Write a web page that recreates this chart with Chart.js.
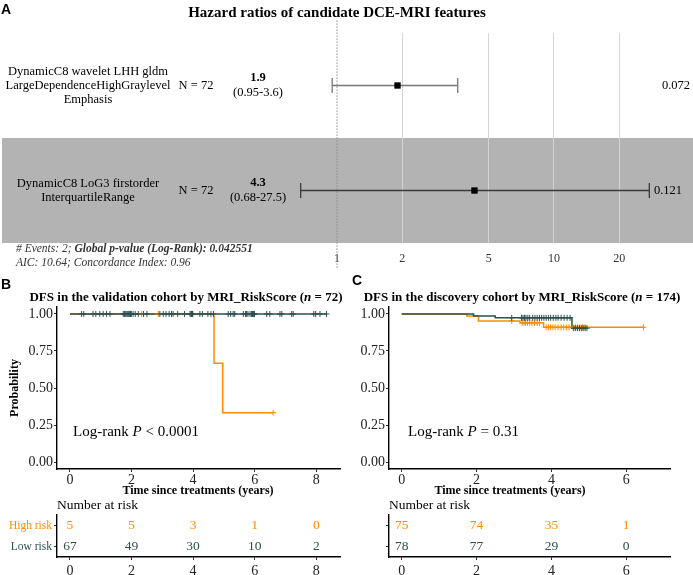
<!DOCTYPE html>
<html>
<head>
<meta charset="utf-8">
<script src="https://cdn.jsdelivr.net/npm/chart.js@4.4.1/dist/chart.umd.min.js"></script>
<style>
  body { margin: 0; background: #fff; }
  #wrap { position: relative; width: 693px; height: 575px; }
  #wrap canvas { position: absolute; left: 0; top: 0; }
</style>
</head>
<body>
<div id="wrap">
  <canvas id="forest" width="693" height="575"></canvas>
  <canvas id="kmB" width="693" height="575"></canvas>
  <canvas id="riskB" width="693" height="575"></canvas>
  <canvas id="kmC" width="693" height="575"></canvas>
  <canvas id="riskC" width="693" height="575"></canvas>
</div>
<script>
// forest plot (A)
const featureLines = [
  ["DynamicC8 wavelet LHH gldm", "LargeDependenceHighGraylevel", "Emphasis"],
  ["DynamicC8 LoG3 firstorder", "InterquartileRange"]
];
const nPatients = [72, 72];
const hazardRatio = [1.9, 4.3];
const ciLower = [0.95, 0.68];
const ciUpper = [3.6, 27.5];
const hrLabels = ["1.9", "4.3"];
const ciLabels = ["(0.95-3.6)", "(0.68-27.5)"];
const pValues = ["0.072", "0.121"];
const hrTicks = [1, 2, 5, 10, 20];

// KM curves
const groups = ["High risk", "Low risk"];
const probTicks = [0, 0.25, 0.5, 0.75, 1];

// validation cohort (B)
const valHighTime = [0, 4.68, 4.96, 6.6];
const valHighSurv = [1, 0.667, 0.333, 0.333];
const valHighCensor = [2.33, 2.87, 6.6];
const valLowTime = [0, 8.33];
const valLowSurv = [1, 1];
const valLowCensor = [0.38, 0.45, 0.75, 0.84, 0.97, 1.08, 1.19, 1.30, 1.73, 1.77, 1.81, 1.85, 1.88, 1.91, 1.94, 1.96, 1.98, 1.99,
  2.05, 2.12, 2.22, 2.39, 2.50, 2.92, 3.03, 3.12, 3.22, 3.30, 3.35, 3.50, 3.72, 3.90, 3.93, 3.95, 3.97, 3.98, 3.99,
  4.22, 4.30, 4.48, 4.58, 4.66, 5.14, 5.22, 5.30, 5.35, 5.63, 5.70, 5.73, 5.78, 5.85, 5.90, 5.93, 5.95, 5.97, 5.98, 5.99,
  6.39, 6.49, 6.82, 6.88, 7.20, 7.25, 7.92, 7.98, 8.12, 8.33];
const valTicks = [0, 2, 4, 6, 8];
const valRiskHigh = [5, 5, 3, 1, 0];
const valRiskLow = [67, 49, 30, 10, 2];

// discovery cohort (C)
const disHighTime = [0, 1.74, 2.05, 3.16, 3.79, 6.46];
const disHighSurv = [1, 0.987, 0.953, 0.94, 0.91, 0.91];
const disHighCensor = [2.94, 3.22, 3.27, 3.31, 3.36, 3.42, 3.48, 3.55, 3.62, 3.68, 3.86, 3.92, 3.98, 4.04, 4.1,
  4.18, 4.26, 4.33, 4.4, 4.47, 4.58, 4.64, 4.7, 4.76, 4.83, 4.9, 6.46];
const disLowTime = [0, 1.92, 2.5, 4.55, 4.95];
const disLowSurv = [1, 0.987, 0.974, 0.904, 0.904];
const disLowCensor = [2.94, 3.2, 3.24, 3.28, 3.32, 3.37, 3.42, 3.5, 3.56, 3.62, 3.68, 3.74, 3.8, 3.86, 3.92, 3.98,
  4.05, 4.12, 4.18, 4.26, 4.34, 4.42, 4.5, 4.6, 4.65, 4.7, 4.75, 4.8, 4.85, 4.9, 4.95];
const disTicks = [0, 2, 4, 6];
const disRiskHigh = [75, 74, 35, 1];
const disRiskLow = [78, 77, 29, 0];

const SERIF = '"Liberation Serif", "Times New Roman", serif';
const SANS = '"Liberation Sans", Arial, sans-serif';
const ORANGE = "#FF8C00";
const DARK = "#2F4F4F";

Chart.defaults.font.family = SERIF;
Chart.defaults.color = "#222";
Chart.defaults.animation = false;
Chart.defaults.plugins.legend.display = false;
Chart.defaults.plugins.tooltip.enabled = false;

function fontStr(size, style, family) {
  return ((style || "") + " " + size + "px " + (family || SERIF)).trim();
}

// draws free text items: {x, y, align, size, style, family, color, parts:[{t, style}]}
const textPlugin = {
  id: "texts",
  afterDraw(chart, args, opts) {
    const ctx = chart.ctx;
    (opts.items || []).forEach(function(item) {
      const parts = item.parts || [{ t: item.text, style: item.style }];
      ctx.save();
      ctx.textBaseline = "middle";
      ctx.textAlign = "left";
      let w = 0;
      parts.forEach(function(p) {
        ctx.font = fontStr(item.size, p.style, item.family);
        w += ctx.measureText(p.t).width;
      });
      let x = item.x;
      if (item.align === "center") x -= w / 2;
      if (item.align === "right") x -= w;
      parts.forEach(function(p) {
        ctx.font = fontStr(item.size, p.style, item.family);
        ctx.fillStyle = item.color || "#000";
        ctx.fillText(p.t, x, item.y);
        x += ctx.measureText(p.t).width;
      });
      ctx.restore();
    });
  }
};

// forest plot: grey band + row texts
const forestCols = { label: 88, n: 196, hr: 258, p: [676, 668] };
const forestRows = {
  id: "forestRows",
  beforeDraw(chart) {
    const y = chart.scales.y;
    const ctx = chart.ctx;
    ctx.save();
    ctx.fillStyle = "#b3b3b3";
    for (let i = 0; i < featureLines.length; i++) {
      if (i % 2 === 1) {
        const top = y.getPixelForValue(i + 0.5);
        const bottom = y.getPixelForValue(i + 1.5);
        ctx.fillRect(2, top, 691, bottom - top);
      }
    }
    ctx.restore();
  },
  afterDraw(chart) {
    const y = chart.scales.y;
    const ctx = chart.ctx;
    ctx.save();
    ctx.textAlign = "center";
    ctx.textBaseline = "middle";
    ctx.fillStyle = "#000";
    for (let i = 0; i < featureLines.length; i++) {
      const yc = y.getPixelForValue(i + 1);
      const lines = featureLines[i];
      ctx.font = fontStr(12.5);
      for (let j = 0; j < lines.length; j++) {
        ctx.fillText(lines[j], forestCols.label, yc + (j - (lines.length - 1) / 2) * 14);
      }
      ctx.fillText("N = " + nPatients[i], forestCols.n, yc);
      ctx.fillText(ciLabels[i], forestCols.hr, yc + 7.5);
      ctx.fillText(pValues[i], forestCols.p[i], yc);
      ctx.font = fontStr(12.5, "bold");
      ctx.fillText(hrLabels[i], forestCols.hr, yc - 8);
    }
    ctx.restore();
  }
};

const barColors = ["#777", "#3a3a3a"];
const forestSets = [{
  data: hazardRatio.map((v, i) => ({ x: v, y: i + 1 })),
  pointStyle: "rect", pointRadius: 4.5, backgroundColor: "#000", borderColor: "#000", borderWidth: 0
}];
for (let i = 0; i < hazardRatio.length; i++) {
  forestSets.push({
    data: [{ x: ciLower[i], y: i + 1 }, { x: ciUpper[i], y: i + 1 }],
    showLine: true, borderColor: barColors[i], borderWidth: 1.3,
    pointStyle: "line", rotation: 90, pointRadius: 7.5,
    pointBorderColor: barColors[i], pointBorderWidth: 1.3
  });
}
forestSets.push({
  data: [{ x: 1, y: 0.38 }, { x: 1, y: 2.75 }],
  showLine: true, borderColor: "#8a8a8a", borderWidth: 1, borderDash: [1.5, 1.5],
  pointRadius: 0, clip: false
});

new Chart(document.getElementById("forest"), {
  type: "scatter",
  data: { datasets: forestSets },
  plugins: [forestRows, textPlugin],
  options: {
    responsive: false,
    layout: { padding: { left: 280, right: 33, top: 33, bottom: 308 } },
    scales: {
      x: {
        type: "logarithmic", min: 0.546, max: 30.8,
        afterBuildTicks: s => { s.ticks = hrTicks.map(v => ({ value: v })); },
        afterFit: s => { s.height = 24; },
        ticks: { callback: v => String(v), font: { size: 12 }, color: "#333", padding: 9, autoSkip: false, maxRotation: 0 },
        grid: { color: c => (c.tick && c.tick.value === 1 ? "rgba(0,0,0,0)" : "#d4d4d4"), drawTicks: false },
        border: { display: false }
      },
      y: { min: 0.5, max: 2.5, reverse: true, display: false }
    },
    plugins: {
      texts: { items: [
        { x: 1, y: 10, text: "A", size: 14, style: "bold", family: SANS },
        { x: 337, y: 13, text: "Hazard ratios of candidate DCE-MRI features", size: 15, style: "bold", align: "center" },
        { x: 16, y: 249, size: 11.5, color: "#333", parts: [
          { t: "# Events: 2; ", style: "italic" },
          { t: "Global p-value (Log-Rank): 0.042551", style: "italic bold" }] },
        { x: 16, y: 263, size: 11.5, color: "#333", text: "AIC: 10.64; Concordance Index: 0.96", style: "italic" }
      ] }
    }
  }
});

// KM helpers
function survAt(times, surv, t) {
  let s = surv[0];
  for (let i = 0; i < times.length; i++) {
    if (times[i] <= t) s = surv[i];
  }
  return s;
}
function stepSet(g, color) {
  return {
    data: g.time.map((t, i) => ({ x: t, y: g.surv[i] })),
    showLine: true, stepped: true, borderColor: color, borderWidth: 1.5, pointRadius: 0
  };
}
function censorSet(g, color) {
  return {
    data: g.censor.map(t => ({ x: t, y: survAt(g.time, g.surv, t) })),
    pointStyle: "cross", pointRadius: 3, borderColor: color, borderWidth: 1, backgroundColor: color
  };
}

function kmChart(id, c) {
  return new Chart(document.getElementById(id), {
    type: "scatter",
    data: { datasets: [censorSet(c.low, DARK), censorSet(c.high, ORANGE), stepSet(c.low, DARK), stepSet(c.high, ORANGE)] },
    plugins: [textPlugin],
    options: {
      responsive: false,
      layout: { padding: { left: c.left - 57, right: 693 - c.right, top: 307, bottom: 76 } },
      scales: {
        x: {
          min: c.xmin, max: c.xmax,
          afterBuildTicks: s => { s.ticks = c.ticks.map(v => ({ value: v })); },
          afterFit: s => { s.height = 30; },
          ticks: { font: { size: 14 }, color: "#222", padding: 0, maxRotation: 0 },
          grid: { drawOnChartArea: false, tickLength: 3, tickColor: "#333" },
          border: { color: "#000", width: 1.4 }
        },
        y: {
          min: -0.047, max: 1.047,
          afterBuildTicks: s => { s.ticks = probTicks.map(v => ({ value: v })); },
          afterFit: s => { s.width = 57; },
          ticks: { callback: v => v.toFixed(2), font: { size: 14 }, color: "#222", padding: 1 },
          grid: { drawOnChartArea: false, tickLength: 3, tickColor: "#333" },
          border: { color: "#000", width: 1.4 },
          title: { display: c.yTitle, text: "Probability", font: { size: 12, weight: "bold" }, color: "#000", padding: { top: 8, bottom: 0 } }
        }
      },
      plugins: { texts: { items: c.texts } }
    }
  });
}

function riskChart(id, c) {
  const sets = [
    { data: c.ticks.map(t => ({ x: t, y: groups[0] })), counts: c.high, textColor: ORANGE, pointRadius: 0 },
    { data: c.ticks.map(t => ({ x: t, y: groups[1] })), counts: c.low, textColor: DARK, pointRadius: 0 }
  ];
  const countLabels = {
    id: "countLabels",
    afterDatasetsDraw(chart) {
      const ctx = chart.ctx;
      chart.data.datasets.forEach(function(ds, di) {
        const meta = chart.getDatasetMeta(di);
        ctx.save();
        ctx.font = fontStr(13.5);
        ctx.fillStyle = ds.textColor;
        ctx.textAlign = "center";
        ctx.textBaseline = "middle";
        meta.data.forEach((pt, i) => ctx.fillText(String(ds.counts[i]), pt.x, pt.y));
        ctx.restore();
      });
    }
  };
  return new Chart(document.getElementById(id), {
    type: "scatter",
    data: { datasets: sets },
    plugins: [countLabels, textPlugin],
    options: {
      responsive: false,
      layout: { padding: { left: c.left - 57, right: 693 - c.right, top: 515, bottom: 0 } },
      scales: {
        x: {
          min: c.xmin, max: c.xmax,
          afterBuildTicks: s => { s.ticks = c.ticks.map(v => ({ value: v })); },
          afterFit: s => { s.height = 18; },
          ticks: { font: { size: 14 }, color: "#222", padding: 3, maxRotation: 0 },
          grid: { drawOnChartArea: false, tickLength: 3, tickColor: "#333" },
          border: { color: "#000", width: 1.4 }
        },
        y: {
          type: "category", labels: groups, offset: true,
          afterFit: s => { s.width = 57; },
          ticks: {
            callback: (v, i) => (c.showLabels ? groups[i] : ""),
            color: ctx => (ctx.index === 0 ? ORANGE : DARK),
            font: { size: 11.5 }, padding: 2
          },
          grid: { drawOnChartArea: false, tickLength: 3, tickColor: "#333" },
          border: { color: "#000", width: 1.4 }
        }
      },
      plugins: { texts: { items: [{ x: c.left, y: 505, text: "Number at risk", size: 13.5 }] } }
    }
  });
}

kmChart("kmB", {
  left: 57, right: 340, xmin: -0.42, xmax: 8.77, ticks: valTicks, yTitle: true,
  high: { time: valHighTime, surv: valHighSurv, censor: valHighCensor },
  low: { time: valLowTime, surv: valLowSurv, censor: valLowCensor },
  texts: [
    { x: 1, y: 285, text: "B", size: 14, style: "bold", family: SANS },
    { x: 186, y: 298, size: 13, align: "center", parts: [
      { t: "DFS in the validation cohort by MRI_RiskScore (", style: "bold" },
      { t: "n", style: "italic bold" }, { t: " = 72)", style: "bold" }] },
    { x: 73, y: 432, size: 15, parts: [{ t: "Log-rank " }, { t: "P", style: "italic" }, { t: " < 0.0001" }] },
    { x: 198, y: 491, size: 12, style: "bold", align: "center", text: "Time since treatments (years)" }
  ]
});
riskChart("riskB", { left: 57, right: 340, xmin: -0.42, xmax: 8.77, ticks: valTicks, high: valRiskHigh, low: valRiskLow, showLabels: true });

kmChart("kmC", {
  left: 389, right: 670, xmin: -0.34, xmax: 7.17, ticks: disTicks, yTitle: false,
  high: { time: disHighTime, surv: disHighSurv, censor: disHighCensor },
  low: { time: disLowTime, surv: disLowSurv, censor: disLowCensor },
  texts: [
    { x: 352, y: 281, text: "C", size: 14, style: "bold", family: SANS },
    { x: 522, y: 298, size: 13, align: "center", parts: [
      { t: "DFS in the discovery cohort by MRI_RiskScore (", style: "bold" },
      { t: "n", style: "italic bold" }, { t: " = 174)", style: "bold" }] },
    { x: 408, y: 432, size: 15, parts: [{ t: "Log-rank " }, { t: "P", style: "italic" }, { t: " = 0.31" }] },
    { x: 510, y: 491, size: 12, style: "bold", align: "center", text: "Time since treatments (years)" }
  ]
});
riskChart("riskC", { left: 389, right: 670, xmin: -0.34, xmax: 7.17, ticks: disTicks, high: disRiskHigh, low: disRiskLow, showLabels: false });
</script>
</body>
</html>
